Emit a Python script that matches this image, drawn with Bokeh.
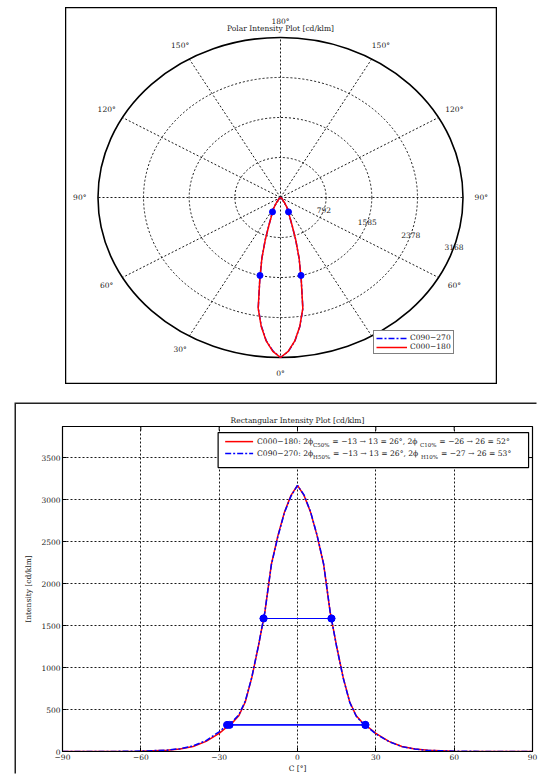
import numpy as np
from bokeh.plotting import figure
from bokeh.models import Legend, LegendItem, Label, Range1d, FixedTicker, Spacer
from bokeh.layouts import column, row
from bokeh.core.properties import value
from bokeh.embed import file_html
from bokeh.resources import INLINE

# ---------------- data ----------------
gamma = [-90, -80, -70, -60, -50, -45, -40, -35, -30, -27.5, -25, -22.5, -20, -17.5, -15, -12.5, -10, -7.5, -5, -2.5, 0,
         2.5, 5, 7.5, 10, 12.5, 15, 17.5, 20, 22.5, 25, 27.5, 30, 35, 40, 45, 50, 60, 70, 80, 90]
i_c000_180 = [0, 0, 1, 4, 14, 30, 60, 120, 215, 280, 340, 425, 590, 880, 1250, 1660, 2230, 2570, 2850, 3050, 3168,
              3050, 2850, 2570, 2230, 1660, 1250, 880, 590, 425, 340, 280, 215, 120, 60, 30, 14, 4, 1, 0, 0]
i_c090_270 = [0, 0, 1, 5, 16, 33, 66, 130, 235, 300, 355, 435, 600, 885, 1255, 1660, 2225, 2560, 2845, 3040, 3168,
              3055, 2855, 2575, 2235, 1665, 1245, 875, 585, 420, 335, 275, 210, 118, 58, 29, 13, 4, 1, 0, 0]
i_max = 3168
level50 = 1584
level10 = 317
half50_c000 = [-13, 13]
half10_c000 = [-26, 26]
half50_c090 = [-13, 13]
half10_c090 = [-27, 26]

ring_values = [792, 1585, 2378, 3168]
ring_labels = ["792", "1585", "2378", "3168"]
spoke_angles = [0, 30, 60, 90, 120, 150, 180, 210, 240, 270, 300, 330]
angle_label_values = [0, 30, 60, 90, 120, 150, 180]
angle_label_texts = ["0°", "30°", "60°", "90°", "120°", "150°", "180°"]

x_ticks = [-90, -60, -30, 0, 30, 60, 90]
x_tick_labels = ["−90", "−60", "−30", "0", "30", "60", "90"]
y_ticks = [0, 500, 1000, 1500, 2000, 2500, 3000, 3500]
y_max = 3870

legend_rows = [
    ("C000−180", [("C000−180: 2ϕ", False), ("C50%", True), (" = −13 → 13 = 26°, 2ϕ", False), ("C10%", True), (" = −26 → 26 = 52°", False)]),
    ("C090−270", [("C090−270: 2ϕ", False), ("H50%", True), (" = −13 → 13 = 26°, 2ϕ", False), ("H10%", True), (" = −27 → 26 = 53°", False)]),
]

FONT = "DejaVu Serif"
TXT = "#222222"
DASHDOT = "6 2 2 2"
GRID_DASH = "2 2"

# ---------------- polar plot ----------------
R = ring_values[-1]
pw, ph = 432, 377
cx_px, cy_px = 215, 190
sx, sy = 182.5, 160.0
polar = figure(width=pw, height=ph, output_backend="svg", toolbar_location=None,
               x_range=Range1d(-cx_px / sx * R, (pw - cx_px) / sx * R),
               y_range=Range1d(-(ph - cy_px) / sy * R, cy_px / sy * R),
               x_axis_type=None, y_axis_type=None, min_border=0)
polar.outline_line_color = "black"
polar.outline_line_width = 1.5
polar.background_fill_color = "white"

# rings
polar.ellipse(x=0, y=0, width=[2 * r for r in ring_values[:-1]], height=[2 * r for r in ring_values[:-1]],
              fill_color=None, line_color="black", line_dash=GRID_DASH, line_width=0.9)
# spokes
sa = np.radians(spoke_angles)
polar.segment(x0=0, y0=0, x1=R * np.sin(sa), y1=-R * np.cos(sa),
              line_color="black", line_dash=GRID_DASH, line_width=0.9)
polar.ellipse(x=0, y=0, width=2 * R, height=2 * R, fill_color=None, line_color="black", line_width=1.6)

# angle labels (both sides)
lab_a, lab_t = [], []
for a, t in zip(angle_label_values, angle_label_texts):
    lab_a.append(a); lab_t.append(t)
    if 0 < a < 180:
        lab_a.append(-a); lab_t.append(t)
la = np.radians(lab_a)
polar.text(x=1.1 * R * np.sin(la), y=-1.1 * R * np.cos(la), text=lab_t,
           text_align="center", text_baseline="middle", text_font=value(FONT),
           text_font_size="7.5px", text_color=TXT)
# ring labels
ra = np.radians(72)
polar.text(x=[r * np.sin(ra) for r in ring_values], y=[-r * np.cos(ra) for r in ring_values], text=ring_labels,
           text_align="center", text_baseline="middle", text_font=value(FONT),
           text_font_size="7.5px", text_color=TXT)
polar.add_layout(Label(x=0, y=(cy_px - 21) / sy * R, text="Polar Intensity Plot [cd/klm]",
                       text_align="center", text_baseline="middle", text_font=FONT,
                       text_font_size="7.5px", text_color=TXT))

g = np.radians(gamma)
pb = polar.line(np.array(i_c090_270) * np.sin(g), -np.array(i_c090_270) * np.cos(g),
                line_color="blue", line_width=1.5, line_dash=DASHDOT)
pr = polar.line(np.array(i_c000_180) * np.sin(g), -np.array(i_c000_180) * np.cos(g),
                line_color="red", line_width=1.5)
dot_g = np.radians(half50_c000 + half10_c000)
dot_i = np.array([level50, level50, level10, level10])
polar.scatter(dot_i * np.sin(dot_g), -dot_i * np.cos(dot_g), size=6, color="blue")

pleg = Legend(items=[LegendItem(label="C090−270", renderers=[pb]),
                     LegendItem(label="C000−180", renderers=[pr])],
              location=(308, 30), margin=0, padding=2, spacing=0,
              glyph_width=31, glyph_height=8, label_height=8, label_standoff=3,
              label_text_font=FONT, label_text_font_size="7.5px", label_text_color=TXT,
              border_line_color="black", border_line_width=1.2, background_fill_alpha=1)
polar.add_layout(pleg)

# ---------------- rectangular plot ----------------
rw, rh = 522, 371
rect = figure(width=rw, height=rh, output_backend="svg", toolbar_location=None,
              x_range=Range1d(-90, 90), y_range=Range1d(0, y_max),
              min_border_left=46, min_border_right=6, min_border_top=22, min_border_bottom=24)
rect.styles = {"box-shadow": "-1.5px -1.5px 0 0 #222222"}
rect.outline_line_color = "black"
rect.outline_line_width = 1.2
rect.title.text = "Rectangular Intensity Plot [cd/klm]"
rect.title.align = "center"
rect.title.text_font = FONT
rect.title.text_font_size = "7.5px"
rect.title.text_font_style = "normal"
rect.title.text_color = TXT
rect.title.standoff = 4

rect.xaxis.ticker = FixedTicker(ticks=x_ticks)
rect.xaxis.major_label_overrides = dict(zip(x_ticks, x_tick_labels))
rect.yaxis.ticker = FixedTicker(ticks=y_ticks)
rect.xaxis.axis_label = "C [°]"
rect.yaxis.axis_label = "Intensity [cd/klm]"
for ax in (rect.xaxis, rect.yaxis):
    ax.major_tick_in = 4
    ax.major_tick_out = 0
    ax.minor_tick_line_color = None
    ax.axis_line_color = "black"
    ax.major_label_text_font = FONT
    ax.major_label_text_font_size = "7.5px"
    ax.major_label_text_color = TXT
    ax.axis_label_text_font = FONT
    ax.axis_label_text_font_size = "7.5px"
    ax.axis_label_text_font_style = "normal"
    ax.axis_label_text_color = TXT
    ax.major_label_standoff = 2
rect.xaxis.axis_label_standoff = 1
rect.yaxis.axis_label_standoff = 5

rect.xgrid.grid_line_color = "black"
rect.ygrid.grid_line_color = "black"
rect.xgrid.grid_line_dash = GRID_DASH
rect.ygrid.grid_line_dash = GRID_DASH
rect.xgrid.grid_line_width = 0.9
rect.ygrid.grid_line_width = 0.9

# inward ticks on top and right edges (half of each dash is clipped by the frame)
rect.scatter(x=x_ticks, y=[y_max] * len(x_ticks), marker="dash", angle=np.pi / 2, size=8,
             line_color="black", line_width=1)
rect.scatter(x=[90] * len(y_ticks), y=y_ticks, marker="dash", size=8, line_color="black", line_width=1)

rect.line(gamma, i_c000_180, line_color="red", line_width=1.5)
rect.line(gamma, i_c090_270, line_color="blue", line_width=1.5, line_dash=DASHDOT)
for xs50, xs10 in ((half50_c000, half10_c000), (half50_c090, half10_c090)):
    rect.line(xs50, [level50, level50], line_color="blue", line_width=1.2)
    rect.line(xs10, [level10, level10], line_color="blue", line_width=1.2)
    rect.scatter(xs50 + xs10, [level50, level50, level10, level10], size=7, color="blue")

# manual legend (box, samples, texts with subscripts)
lg_left, lg_right, lg_bottom, lg_top = -30.4, 88.5, 3381, 3798
row_y = [3690, 3548]
sample_x = [-27.7, -17.0]
text_x = -15.5
rect.quad(left=lg_left, right=lg_right, bottom=lg_bottom, top=lg_top, fill_color="white",
          line_color="black", line_width=1.2, level="annotation")
rect.line(sample_x, [row_y[0]] * 2, line_color="red", line_width=1.5, level="annotation")
rect.line(sample_x, [row_y[1]] * 2, line_color="blue", line_width=1.5, line_dash=DASHDOT, level="annotation")

W = {' ': 0.318, ':': 0.337, '−': 0.838, '=': 0.838, '→': 0.838, '°': 0.5, ',': 0.318, '%': 0.95,
     'ϕ': 0.70, 'C': 0.733, 'H': 0.872}
def tw(s, fs):
    return sum(W.get(c, 0.636) for c in s) * fs

MAIN_FS, SUB_FS = 7.6, 5.5
for (name, parts), yv in zip(legend_rows, row_y):
    off = 0.0
    for txt, sub in parts:
        fs = SUB_FS if sub else MAIN_FS
        rect.add_layout(Label(x=text_x, y=yv, x_offset=off, y_offset=-3 if sub else 0, text=txt,
                              text_font=FONT, text_font_size=f"{fs}px", text_color=TXT,
                              text_align="left", text_baseline="middle", level="overlay"))
        off += tw(txt, fs) + (3 if sub else 0)

layout = column(Spacer(width=10, height=7),
                row(Spacer(width=65, height=ph), polar),
                Spacer(width=10, height=20),
                row(Spacer(width=16, height=rh), rect))

open("out.html", "w").write(file_html(layout, INLINE))
